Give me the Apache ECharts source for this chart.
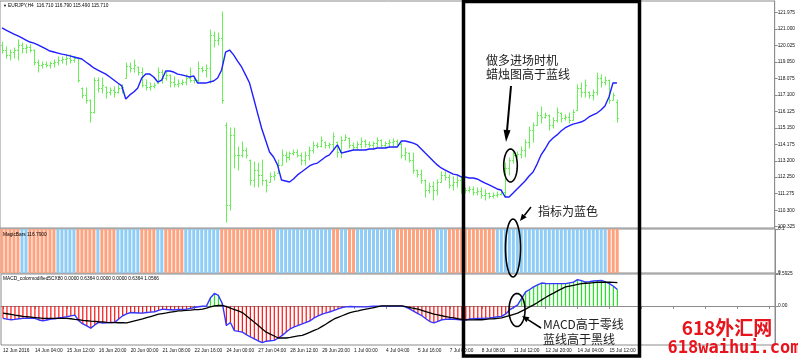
<!DOCTYPE html>
<html><head><meta charset="utf-8">
<script src="https://cdn.jsdelivr.net/npm/echarts@6/dist/echarts.min.js"></script>
<style>html,body{margin:0;padding:0;background:#fff;overflow:hidden}#c{width:798px;height:358px}</style>
</head><body><div id="c"></div>
<script>
// ---------- data ----------
const timeLabels = ["12 Jun 2016","14 Jun 04:00","15 Jun 12:00","16 Jun 20:00","20 Jun 00:00","21 Jun 08:00","22 Jun 16:00","24 Jun 00:00","27 Jun 04:00","28 Jun 12:00","29 Jun 20:00","1 Jul 00:00","4 Jul 04:00","5 Jul 16:00","7 Jul 00:00","8 Jul 08:00","11 Jul 12:00","12 Jul 20:00","14 Jul 04:00","15 Jul 12:00"];
const priceTicks = [109.325,110.300,111.275,112.250,113.200,114.175,115.150,116.125,117.100,118.075,119.050,120.025,121.000,121.975];
const magicTicks = [0.1, 0];
const macdTicks = [1.5925, 0];

const openP = [120.05,119.75,119.46,119.63,119.75,120.05,119.87,119.93,119.75,119.04,
118.87,118.92,118.87,118.98,119.04,119.16,119.22,119.28,119.16,119.28,
117.51,117.10,116.80,116.09,117.98,117.51,117.57,117.27,117.39,117.27,
117.51,118.10,118.81,118.69,118.75,118.45,117.69,117.57,117.63,117.80,
118.45,118.10,118.28,117.86,117.74,117.80,117.86,118.10,117.98,117.98,
118.69,118.57,118.69,120.64,120.34,120.46,115.33,110.61,114.74,113.56,
113.56,113.85,113.26,112.08,112.67,112.38,112.08,111.96,112.32,112.49,
112.97,113.56,113.44,113.67,113.73,113.56,113.26,113.56,113.85,114.15,
114.09,114.32,114.15,114.20,114.32,113.73,114.44,114.56,114.15,114.03,
114.20,114.38,114.20,114.15,114.26,114.44,114.15,114.26,114.32,114.38,
114.20,113.56,113.67,113.26,112.67,112.43,112.08,111.49,111.73,111.49,
111.96,112.38,112.26,111.79,111.96,112.08,111.49,111.49,111.55,111.37,
111.43,111.20,111.31,111.14,111.20,111.25,111.37,112.79,113.26,113.56,
113.61,113.85,114.32,115.03,115.33,115.92,115.80,115.92,115.33,115.62,
116.03,115.74,115.80,115.62,116.21,117.51,117.27,117.27,117.10,117.27,
118.10,117.86,117.98,116.80,116.71];
const highP = [120.22,119.93,119.75,119.87,120.34,120.16,120.05,120.05,119.75,119.16,
119.04,119.04,119.04,119.16,119.34,119.34,119.46,119.46,119.34,119.28,
117.51,117.51,116.80,118.10,118.10,118.10,117.57,117.51,117.57,117.69,
117.69,118.98,118.98,119.16,118.75,118.69,117.98,117.80,117.80,118.69,
118.57,118.45,118.28,118.16,117.98,117.98,118.28,118.69,118.10,119.04,
118.75,118.87,120.93,120.81,120.75,121.99,115.44,115.15,115.15,114.03,
114.32,113.97,113.26,113.14,113.08,113.26,112.08,112.49,112.55,113.26,
113.85,113.73,113.73,113.85,113.85,113.67,113.73,114.03,114.32,114.26,
114.62,114.32,114.26,114.85,114.32,114.62,114.74,114.56,114.26,114.32,
114.56,114.44,114.32,114.32,114.56,114.44,114.32,114.44,114.50,114.44,
114.26,113.97,113.67,113.67,112.67,112.67,112.08,111.90,111.96,112.08,
112.55,112.55,112.38,112.26,112.38,112.26,111.61,111.67,111.67,111.61,
111.61,111.49,111.31,111.31,111.37,111.49,113.08,113.38,113.73,113.73,
114.03,114.44,115.21,115.44,116.09,116.39,116.03,115.92,115.74,116.33,
116.03,115.92,116.03,116.21,117.69,117.80,117.98,117.27,117.39,118.39,
118.28,118.16,117.98,117.21,116.79];
const lowP = [119.57,119.28,119.16,119.28,119.16,119.57,119.57,119.63,118.87,118.45,
118.69,118.75,118.69,118.75,118.87,118.98,118.87,118.98,119.04,117.86,
116.92,116.62,115.50,116.03,117.27,117.21,116.92,117.10,116.98,117.21,
117.21,118.10,118.45,118.45,118.28,117.57,117.39,117.39,117.51,117.80,
117.80,117.98,117.57,117.57,117.57,117.69,117.69,117.86,117.80,117.86,
118.45,118.16,117.80,119.93,120.05,116.62,109.60,110.31,112.79,112.67,
113.44,113.38,111.79,111.67,111.67,111.79,111.37,111.96,112.08,112.49,
112.97,113.14,113.26,113.56,113.44,112.97,112.97,113.26,113.67,113.97,
114.03,113.97,113.97,113.85,113.44,113.38,114.44,113.97,113.85,113.85,
113.97,114.03,114.03,113.97,114.03,113.97,114.03,114.03,114.03,114.15,
113.38,113.26,113.14,112.49,112.26,111.90,111.08,111.31,110.90,111.20,
111.96,112.08,111.61,111.49,111.67,111.31,111.31,111.37,111.20,111.20,
111.02,110.90,111.02,111.02,111.08,111.20,111.08,112.38,113.08,113.44,
113.38,113.44,113.97,114.32,115.33,115.44,115.74,115.03,115.15,115.50,
115.50,115.62,115.44,115.62,116.21,116.98,116.98,116.92,116.80,117.10,
117.57,117.69,116.62,116.80,115.49];
const closeP = [119.75,119.46,119.63,119.75,120.05,119.87,119.93,119.75,119.04,118.87,
118.92,118.87,118.98,119.04,119.16,119.22,119.28,119.16,119.28,117.98,
117.10,116.80,116.09,117.98,117.51,117.69,117.27,117.39,117.27,117.51,
117.57,118.81,118.69,118.87,118.45,117.69,117.57,117.63,117.69,118.45,
118.10,118.28,117.86,117.74,117.80,117.86,118.10,117.98,117.98,118.69,
118.57,118.69,120.64,120.34,120.46,116.80,110.61,114.74,113.56,113.56,
113.85,113.56,112.08,112.67,112.38,112.08,111.79,112.32,112.38,112.97,
113.56,113.44,113.67,113.73,113.56,113.26,113.56,113.85,114.15,114.09,
114.44,114.15,114.20,114.68,113.73,114.44,114.62,114.15,114.03,114.20,
114.38,114.20,114.15,114.26,114.44,114.15,114.26,114.32,114.38,114.20,
113.56,113.73,113.26,112.67,112.43,112.08,111.49,111.73,111.49,111.96,
112.38,112.26,111.79,111.96,112.08,111.49,111.49,111.55,111.37,111.43,
111.20,111.31,111.14,111.20,111.25,111.37,112.79,113.26,113.56,113.61,
113.85,114.32,115.03,115.33,115.92,115.80,115.92,115.33,115.62,116.09,
115.74,115.80,115.62,116.09,117.51,117.27,117.69,117.10,117.27,118.10,
117.86,117.98,116.80,117.10,115.71];
const maLine = [121.05,120.93,120.81,120.69,120.58,120.46,120.34,120.22,120.16,120.05,
119.93,119.81,119.69,119.63,119.57,119.51,119.46,119.40,119.34,119.28,
119.22,119.04,118.87,118.69,118.57,118.45,118.33,118.16,117.98,117.80,
117.63,116.86,117.10,117.27,117.51,118.10,118.33,118.33,118.16,117.86,
117.98,118.51,118.51,118.45,118.33,118.28,118.22,118.16,118.22,117.80,
117.80,117.80,117.86,117.92,118.10,118.57,119.63,119.75,119.46,119.10,
118.75,118.28,117.80,116.92,116.03,115.15,114.44,113.73,113.44,112.97,
112.08,112.02,111.96,112.14,112.38,112.55,112.73,112.91,113.02,113.08,
113.26,113.44,113.56,113.85,114.15,113.67,113.73,113.79,113.85,113.85,
113.85,113.85,113.91,113.91,113.97,113.97,113.97,114.03,114.03,114.03,
114.38,114.38,114.32,114.26,114.15,113.91,113.67,113.44,113.20,112.97,
112.79,112.67,112.55,112.43,112.38,112.26,112.26,112.20,112.20,112.14,
112.02,111.90,111.79,111.67,111.55,111.49,111.08,111.08,111.31,111.55,
111.79,112.02,112.32,112.55,113.02,113.56,113.91,114.32,114.56,114.74,
114.97,115.15,115.27,115.38,115.44,115.50,115.62,115.80,115.92,116.03,
116.21,116.45,116.98,117.80,117.80];
// 1 = orange (bearish), 0 = blue (bullish)
const magicState = [1,1,1,1,1,0,0,1,1,1,
1,1,1,1,0,0,0,0,0,1,
1,1,1,1,0,1,1,1,1,0,
0,0,0,0,0,1,1,1,1,0,
0,1,1,1,1,1,0,0,0,0,
0,0,0,0,0,1,1,1,1,1,
1,1,1,1,1,1,1,1,1,0,
0,0,0,0,0,0,0,0,0,0,
0,0,0,1,1,0,0,1,1,0,
0,0,0,0,0,0,0,0,0,1,
1,1,1,1,1,1,1,1,1,0,
0,0,1,1,1,1,1,1,1,1,
1,1,1,1,0,0,0,0,0,0,
0,0,0,0,0,0,0,0,0,0,
0,0,0,0,0,0,0,0,0,0,
0,0,1,1,1];
const macdMain = [-0.62,-0.66,-0.69,-0.67,-0.64,-0.62,-0.62,-0.62,-0.62,-0.70,
-0.74,-0.70,-0.66,-0.64,-0.60,-0.57,-0.54,-0.50,-0.46,-0.74,
-0.90,-1.00,-1.11,-0.95,-0.82,-0.85,-0.84,-0.83,-0.82,-0.65,
-0.49,-0.40,-0.33,-0.34,-0.35,-0.36,-0.33,-0.31,-0.29,-0.22,
-0.16,-0.18,-0.19,-0.20,-0.18,-0.17,-0.16,-0.12,-0.08,-0.04,
-0.02,-0.01,0.41,0.62,0.52,0.10,-0.98,-0.83,-1.23,-1.27,
-1.31,-1.43,-1.55,-1.65,-1.75,-1.83,-1.76,-1.74,-1.72,-1.60,
-1.47,-1.30,-1.14,-1.05,-0.97,-0.90,-0.82,-0.74,-0.60,-0.50,
-0.41,-0.35,-0.29,-0.22,-0.15,-0.08,-0.05,-0.03,-0.04,-0.05,
-0.05,-0.05,-0.03,-0.02,-0.01,-0.01,-0.01,-0.01,-0.01,-0.01,
-0.01,-0.06,-0.16,-0.27,-0.38,-0.49,-0.64,-0.78,-0.85,-0.77,
-0.69,-0.67,-0.65,-0.67,-0.68,-0.70,-0.70,-0.65,-0.64,-0.63,
-0.62,-0.61,-0.60,-0.57,-0.54,-0.52,-0.40,-0.20,-0.07,0.05,
0.38,0.70,0.82,0.95,1.05,1.14,1.12,1.11,1.11,1.11,
1.11,1.11,1.15,1.19,1.31,1.26,1.19,1.21,1.24,1.26,
1.27,1.20,1.11,0.98,0.82];
const macdSignal = [-0.36,-0.39,-0.42,-0.46,-0.49,-0.52,-0.54,-0.56,-0.58,-0.60,
-0.62,-0.62,-0.62,-0.62,-0.62,-0.62,-0.62,-0.64,-0.67,-0.69,
-0.72,-0.74,-0.76,-0.77,-0.79,-0.80,-0.82,-0.83,-0.83,-0.84,
-0.84,-0.85,-0.80,-0.75,-0.70,-0.65,-0.59,-0.53,-0.47,-0.41,
-0.38,-0.35,-0.31,-0.28,-0.25,-0.24,-0.22,-0.21,-0.19,-0.18,
-0.16,-0.11,-0.05,0.00,0.02,0.03,-0.04,-0.11,-0.18,-0.25,
-0.33,-0.49,-0.65,-0.82,-0.98,-1.15,-1.31,-1.41,-1.50,-1.60,
-1.60,-1.60,-1.57,-1.53,-1.50,-1.47,-1.39,-1.31,-1.22,-1.14,
-1.02,-0.90,-0.77,-0.65,-0.57,-0.49,-0.41,-0.33,-0.29,-0.25,
-0.20,-0.16,-0.12,-0.08,-0.04,0.00,0.00,0.00,0.00,0.00,
0.00,-0.04,-0.08,-0.12,-0.16,-0.22,-0.29,-0.35,-0.41,-0.45,
-0.49,-0.53,-0.57,-0.60,-0.64,-0.67,-0.70,-0.70,-0.70,-0.69,
-0.69,-0.67,-0.65,-0.64,-0.62,-0.60,-0.54,-0.48,-0.42,-0.36,
-0.26,-0.16,-0.05,0.05,0.17,0.30,0.42,0.54,0.64,0.75,
0.85,0.95,0.99,1.03,1.07,1.11,1.13,1.14,1.16,1.18,
1.19,1.18,1.18,1.17,1.16];

// ---------- chart ----------
const FONT = 'Liberation Sans';
const BAR_GREEN = '#66f055';
const SLOTS = 194; // visible bar slots incl. MT4 right shift
const cats = Array.from({length: SLOTS}, (_, i) => String(i));
const LABEL_EVERY = 8;

const chart = echarts.init(document.getElementById('c'), null, {renderer: 'canvas'});

function ohlcItem(params, api) {
  const i = api.value(0);
  const o = api.coord([i, api.value(1)]);
  const h = api.coord([i, api.value(2)]);
  const l = api.coord([i, api.value(3)]);
  const c = api.coord([i, api.value(4)]);
  const x = Math.round(h[0]) + 0.5;
  const st = {stroke: BAR_GREEN, lineWidth: 1};
  return {type: 'group', children: [
    {type: 'line', shape: {x1: x, y1: h[1] - 0.5, x2: x, y2: l[1] + 0.5}, style: st},
    {type: 'line', shape: {x1: x - 1.5, y1: Math.round(o[1]) + 0.5, x2: x, y2: Math.round(o[1]) + 0.5}, style: st},
    {type: 'line', shape: {x1: x, y1: Math.round(c[1]) + 0.5, x2: x + 1.5, y2: Math.round(c[1]) + 0.5}, style: st}
  ]};
}

function ellipse(cx, cy, rx, ry) {
  const pts = [];
  for (let k = 0; k < 60; k++) { const a = k / 60 * Math.PI * 2; pts.push([cx + rx * Math.cos(a), cy + ry * Math.sin(a)]); }
  return {type: 'polygon', shape: {points: pts}, style: {fill: 'none', stroke: '#000', lineWidth: 1.6}, z: 100};
}
function arrow(x1, y1, x2, y2, hl, hw, lw) {
  const dx = x2 - x1, dy = y2 - y1, len = Math.hypot(dx, dy), ux = dx / len, uy = dy / len;
  const bx = x2 - ux * hl, by = y2 - uy * hl;
  return [
    {type: 'line', shape: {x1, y1, x2: bx, y2: by}, style: {stroke: '#000', lineWidth: lw}, z: 100},
    {type: 'polygon', shape: {points: [[x2, y2], [bx - uy * hw / 2, by + ux * hw / 2], [bx + uy * hw / 2, by - ux * hw / 2]]}, style: {fill: '#000'}, z: 100}
  ];
}
function txt(x, y, s, size, color, weight, family, align) {
  return {type: 'text', x, y, z: 101, style: {text: s, fontSize: size, fill: color, fontWeight: weight || 'normal', fontFamily: family || FONT, textAlign: align || 'left', textVerticalAlign: 'middle'}};
}

const lastIdx = closeP.length - 1;
const grids = [
  {left: -1, width: 776, top: 1, height: 227},
  {left: -1, width: 776, top: 229, height: 44},
  {left: -1, width: 776, top: 274, height: 71}
].map(g => Object.assign(g, {show: true, borderColor: '#8c8c8c', borderWidth: 1, backgroundColor: 'transparent'}));

const baseX = gi => ({
  type: 'category', gridIndex: gi, data: cats, boundaryGap: true,
  axisLine: {show: gi === 2, lineStyle: {color: '#8c8c8c'}},
  axisTick: {show: gi === 2, alignWithLabel: true, interval: i => i % LABEL_EVERY === 0, length: 3, lineStyle: {color: '#8c8c8c'}},
  axisLabel: {show: gi === 2, interval: i => i % LABEL_EVERY === 0, formatter: (v, i) => timeLabels[i / LABEL_EVERY] || '', align: 'left', fontSize: 4.8, color: '#111', margin: 3, fontFamily: FONT},
  splitLine: {show: false}
});

const rightY = (gi, min, max, ticks, fmt) => ({
  type: 'value', gridIndex: gi, position: 'right', min, max, scale: true,
  axisLine: {show: true, lineStyle: {color: '#8c8c8c'}},
  axisTick: {show: true, customValues: ticks, length: 3, lineStyle: {color: '#8c8c8c'}},
  axisLabel: {customValues: ticks, formatter: fmt, fontSize: 4.8, color: '#111', margin: 3, fontFamily: FONT},
  splitLine: {show: false}
});

const graphic = [
  txt(3, 5.5, '▼', 4, '#000'),
  txt(8, 5.5, 'EURJPY,H4  ' + [openP[lastIdx], highP[lastIdx], lowP[lastIdx], closeP[lastIdx]].map(v => v.toFixed(3)).join(' '), 4.8, '#000'),
  txt(3, 235, 'MagicBars 116.7900', 4.8, '#000'),
  txt(3, 279, 'MACD_colormodified5CX80 0.0000 0.6364 0.0000 0.0000 0.6364 1.0566', 4.8, '#000'),
  {type: 'rect', shape: {x: 463.5, y: 1.5, width: 176, height: 354.5}, style: {fill: 'none', stroke: '#000', lineWidth: 3.5}, z: 100},
  ellipse(510.5, 165.5, 6.8, 16.5),
  ellipse(513, 248, 7.5, 29),
  ellipse(517, 310, 8, 16.5),
  ...arrow(511, 86, 506, 142, 12, 7, 2),
  ...arrow(531, 207, 520, 221, 7, 6, 1.5),
  ...arrow(541, 328, 522, 316, 7, 6, 1.5),
  txt(486, 60, '做多进场时机', 12, '#222', 'normal', 'Noto Sans CJK SC'),
  txt(486, 74.5, '蜡烛图高于蓝线', 12, '#222', 'normal', 'Noto Sans CJK SC'),
  txt(538, 211, '指标为蓝色', 12, '#222', 'normal', 'Noto Sans CJK SC'),
  txt(543, 324, 'MACD高于零线', 12, '#222', 'normal', 'Noto Sans CJK SC'),
  txt(543, 339.5, '蓝线高于黑线', 12, '#222', 'normal', 'Noto Sans CJK SC'),
  txt(727, 328, '618外汇网', 19, '#e8141c', 'bold', 'Noto Sans CJK SC', 'center'),
  txt(734, 348.5, '618waihui.com', 17, '#e8141c', 'bold', 'DejaVu Sans Mono', 'center')
];

chart.setOption({
  animation: false,
  backgroundColor: '#fff',
  textStyle: {fontFamily: FONT},
  grid: grids,
  xAxis: [baseX(0), baseX(1), baseX(2)],
  yAxis: [
    rightY(0, 109.249, 122.641, priceTicks, v => v.toFixed(3)),
    rightY(1, 0, 0.1, magicTicks, v => v > 0 ? '0.1' : '0'),
    rightY(2, -1.95, 1.5925, macdTicks, v => v > 0 ? '1.5925' : '0.00')
  ],
  series: [
    {type: 'custom', name: 'EURJPY', xAxisIndex: 0, yAxisIndex: 0, renderItem: ohlcItem,
     encode: {x: 0, y: [1, 2, 3, 4]},
     data: openP.map((o, i) => [i, o, highP[i], lowP[i], closeP[i]]), z: 2},
    {type: 'line', name: 'MA', xAxisIndex: 0, yAxisIndex: 0, data: maLine, symbol: 'none',
     lineStyle: {color: '#1f1fff', width: 1.4}, z: 3,
     markLine: {silent: true, symbol: 'none', lineStyle: {opacity: 0},
       data: [{yAxis: closeP[lastIdx]}],
       label: {position: 'end', distance: 2, formatter: () => closeP[lastIdx].toFixed(3), backgroundColor: '#000', color: '#fff', fontSize: 4.8, padding: [1, 2], fontFamily: FONT}}},
    {type: 'bar', name: 'MagicBars', xAxisIndex: 1, yAxisIndex: 1, barWidth: 3,
     data: magicState.map(s => ({value: 0.1, itemStyle: {color: s ? '#ffa27e' : '#8fcdf6'}}))},
    {type: 'bar', name: 'MACD hist', xAxisIndex: 2, yAxisIndex: 2, barWidth: 1.2,
     data: macdMain.map(v => ({value: v, itemStyle: {color: v >= 0 ? '#1ee81e' : '#ff1010'}}))},
    {type: 'line', name: 'MACD', xAxisIndex: 2, yAxisIndex: 2, data: macdMain, symbol: 'none',
     lineStyle: {color: '#3535ff', width: 1.4}, z: 4},
    {type: 'line', name: 'Signal', xAxisIndex: 2, yAxisIndex: 2, data: macdSignal, symbol: 'none',
     lineStyle: {color: '#000', width: 1.3}, z: 5}
  ],
  graphic: graphic
});
</script></body></html>
